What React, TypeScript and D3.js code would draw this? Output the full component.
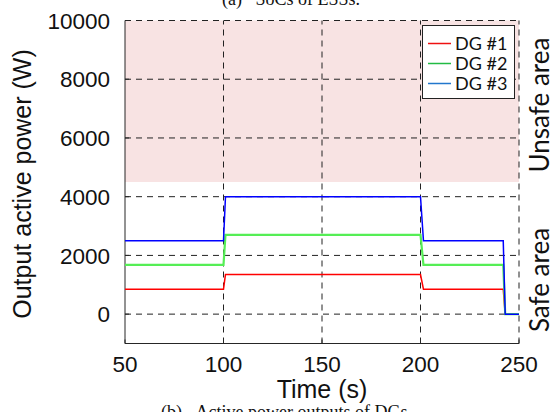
import React from "react";
import * as d3 from "d3";

const times = [50, 100, 101, 200, 201.5, 242, 243, 250];
const dg1 = [850, 850, 1350, 1350, 850, 850, 0, 0];
const dg2 = [1680, 1680, 2700, 2700, 1680, 1680, 0, 0];
const dg3 = [2500, 2500, 4000, 4000, 2500, 2500, 0, 0];
const seriesNames = ["DG #1", "DG #2", "DG #3"];
const lineColors = ["#ff0000", "#55ee55", "#0000ff"];
const legendColors = ["#ee1111", "#22bb44", "#2277cc"];
const lineWidths = [1.5, 2.2, 1.5];
const xTicks = [50, 100, 150, 200, 250];
const yTicks = [0, 2000, 4000, 6000, 8000, 10000];
const unsafeFrom = 4500;
const unsafeTo = 10000;

export default function App() {
  const W = 555, H = 412;
  const x = d3.scaleLinear().domain([50, 250]).range([125, 519]);
  const y = d3.scaleLinear().domain([-1000, 10000]).range([343.5, 20.5]);
  const series = [dg1, dg2, dg3];
  const line = d3
    .line<number>()
    .x((_, i) => x(times[i]))
    .y((d) => y(d));
  const axisColor = "#262626";
  const num = "'Liberation Sans', Arial, sans-serif";
  const cal = "Lato, 'Open Sans', sans-serif";
  const serif = "'Liberation Serif', 'Times New Roman', serif";
  return (
    <svg width={W} height={H} style={{ position: "absolute", left: 0, top: 0 }}>
      <rect x={0} y={0} width={W} height={H} fill="#fff" />
      <text x={222} y={5} fontFamily={serif} fontSize={18} fill="#111">
        {"(a)\u00a0\u00a0\u00a0SoCs of ESSs."}
      </text>
      <rect
        x={x(50)}
        y={y(unsafeTo)}
        width={x(250) - x(50)}
        height={y(unsafeFrom) - y(unsafeTo)}
        fill="#f8e3e3"
      />
      {yTicks.map((t) => (
        <line key={"gy" + t} x1={x(50)} x2={x(250)} y1={y(t)} y2={y(t)} stroke="#222" strokeWidth={1} strokeDasharray="6,5" />
      ))}
      {xTicks.slice(1).map((t) => (
        <line key={"gx" + t} x1={x(t)} x2={x(t)} y1={y(-1000)} y2={y(10000)} stroke="#222" strokeWidth={1} strokeDasharray="6,5" />
      ))}
      <line x1={x(50)} x2={x(50)} y1={y(-1000)} y2={y(10000)} stroke={axisColor} strokeWidth={1} />
      <line x1={x(50)} x2={x(250)} y1={y(-1000)} y2={y(-1000)} stroke={axisColor} strokeWidth={1} />
      {yTicks.map((t) => (
        <line key={"ty" + t} x1={x(50)} x2={x(50) + 4} y1={y(t)} y2={y(t)} stroke={axisColor} />
      ))}
      {xTicks.map((t) => (
        <line key={"tx" + t} x1={x(t)} x2={x(t)} y1={y(-1000)} y2={y(-1000) - 4} stroke={axisColor} />
      ))}
      {series.map((s, i) => (
        <path key={"s" + i} d={line(s) || ""} fill="none" stroke={lineColors[i]} strokeWidth={lineWidths[i]} />
      ))}
      {yTicks.map((t) => (
        <text key={"ly" + t} x={110} y={y(t)} dy="0.36em" textAnchor="end" fontFamily={num} fontSize={22.5} fill="#111">
          {t}
        </text>
      ))}
      {xTicks.map((t) => (
        <text key={"lx" + t} x={x(t)} y={371.5} textAnchor="middle" fontFamily={num} fontSize={22.5} fill="#111">
          {t}
        </text>
      ))}
      <text x={(x(50) + x(250)) / 2} y={398} textAnchor="middle" fontFamily={num} fontSize={25} fill="#111">
        Time (s)
      </text>
      <text
        transform={`translate(31,${(y(-1000) + y(10000)) / 2 + 2}) rotate(-90)`}
        textAnchor="middle"
        fontFamily={num}
        fontSize={25}
        fill="#111"
      >
        Output active power (W)
      </text>
      <rect x={422.5} y={25.5} width={92} height={73} fill="#fff" stroke="#222" strokeWidth={1} />
      {seriesNames.map((n, i) => (
        <g key={"lg" + i}>
          <line x1={428} x2={451} y1={43.5 + i * 20} y2={43.5 + i * 20} stroke={legendColors[i]} strokeWidth={1.5} />
          <text x={455} y={43.5 + i * 20} dy="0.35em" fontFamily={cal} fontSize={18} fill="#111">
            {n}
          </text>
        </g>
      ))}
      <text transform={`translate(549,105) rotate(-90)`} textAnchor="middle" fontFamily={cal} fontSize={26} fill="#111">
        Unsafe area
      </text>
      <text transform={`translate(549,280) rotate(-90)`} textAnchor="middle" fontFamily={cal} fontSize={26} fill="#111">
        Safe area
      </text>
      <text x={161} y={418} fontFamily={serif} fontSize={18} fill="#111">
        {"(b)\u00a0\u00a0\u00a0Active power outputs of DGs."}
      </text>
    </svg>
  );
}
